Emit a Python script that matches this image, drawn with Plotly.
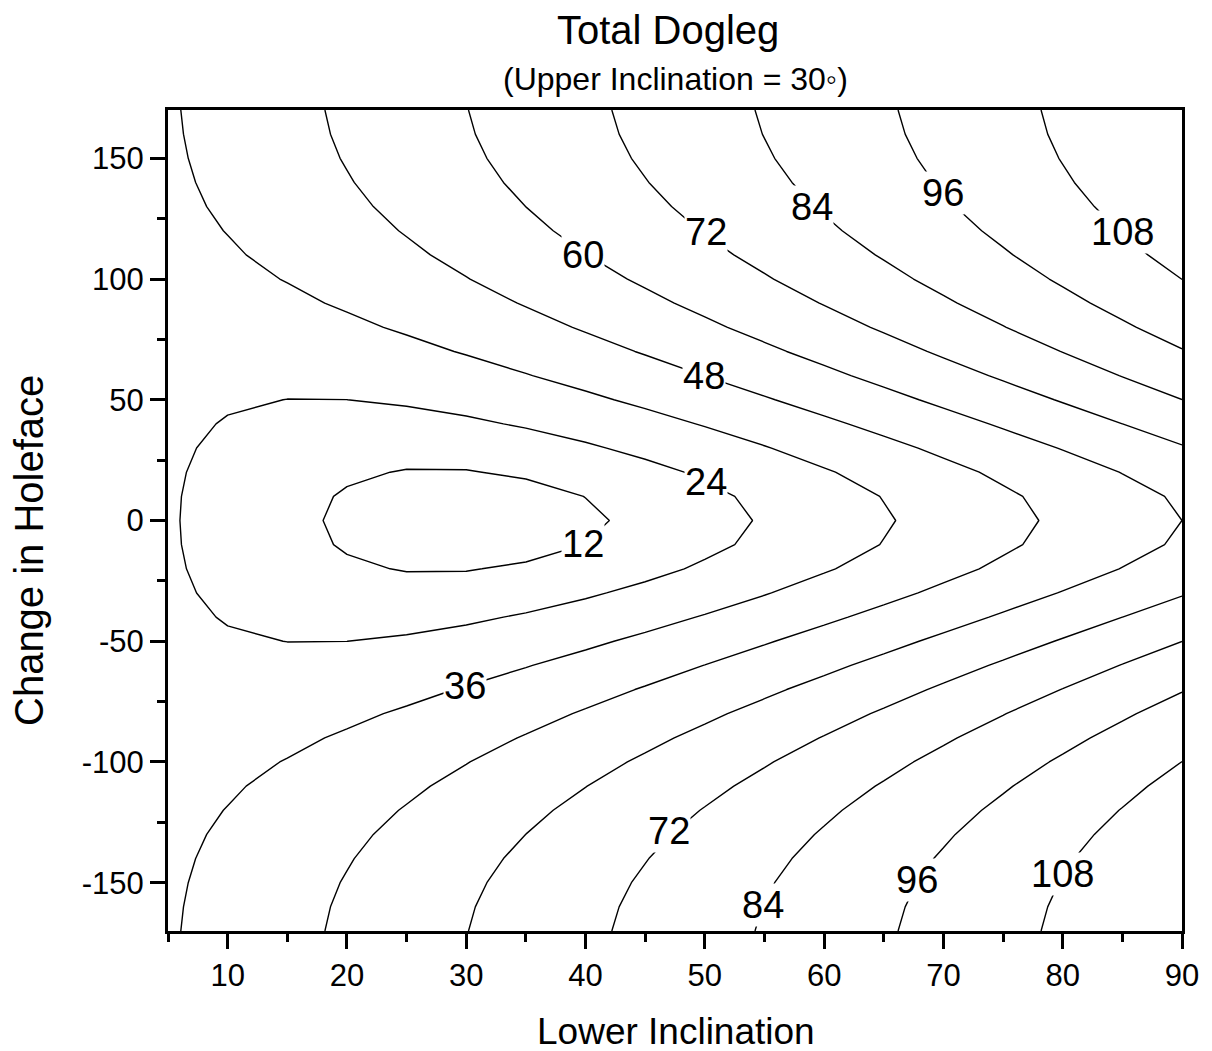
import numpy as np
import plotly.graph_objects as go

# ---- data ----
upper_inclination = 30.0                       # degrees (from subtitle)
lower_inclination = list(range(5, 95, 5))      # x grid, degrees
holeface_change = list(range(-170, 180, 10))   # y grid, degrees
contour_levels = [12, 24, 36, 48, 60, 72, 84, 96, 108]
x_ticks = [10, 20, 30, 40, 50, 60, 70, 80, 90]
y_ticks = [-150, -100, -50, 0, 50, 100, 150]
y_tick_text = ["-150", "-100", "-50", "0", "50", "100", "150"]

# contour label placement (level, lower inclination, holeface change)
label_levels = [12, 24, 36, 48, 60, 72, 84, 96, 108, 72, 84, 96, 108]
label_x = [39.8, 50.1, 29.9, 49.9, 39.8, 50.1, 59.0, 70.0, 85.0, 47.0, 54.9, 67.8, 80.0]
label_y = [-9.7, 15.9, -68.6, 60.0, 109.9, 119.4, 130.0, 135.8, 119.4, -128.4, -159.3, -149.0, -146.5]

# total dogleg between upper and lower stations for a given change in holeface
# (holeface change -> azimuth change by Napier's analogy, then dogleg angle)
I1 = np.radians(upper_inclination)
I2 = np.radians(np.array(lower_inclination, dtype=float))[None, :]
HF = np.radians(np.array(holeface_change, dtype=float))[:, None]
k = np.cos((I2 - I1) / 2) / np.cos((I2 + I1) / 2)
dA = 2 * np.arctan(k * np.tan(HF / 2))
cos_dl = np.cos(I1) * np.cos(I2) + np.sin(I1) * np.sin(I2) * np.cos(dA)
dogleg = np.degrees(np.arccos(np.clip(cos_dl, -1, 1)))

FONT = "Liberation Sans, Arial, sans-serif"

fig = go.Figure()
fig.add_trace(go.Contour(
    x=lower_inclination, y=holeface_change, z=dogleg,
    autocontour=False,
    contours=dict(start=contour_levels[0], end=contour_levels[-1],
                  size=contour_levels[1] - contour_levels[0],
                  coloring="lines", showlabels=False),
    colorscale=[[0, "black"], [1, "black"]],
    showscale=False,
    line=dict(width=1.4, smoothing=0),
    hoverinfo="skip",
))

W, H = 1212, 1051
# plot area in page pixels
PL, PR, PT, PB = 168, 1182, 110, 931
L, T, R, B = PL, PT, W - PR, H - PB
pw, ph = PR - PL, PB - PT

def px_to_paper_x(p):
    return (p - PL) / pw

def px_to_paper_y(p):
    return (PB - p) / ph

annotations = [
    dict(text="Total Dogleg", x=px_to_paper_x(668), y=px_to_paper_y(30),
         xref="paper", yref="paper", xanchor="center", yanchor="middle",
         showarrow=False, font=dict(size=40, family=FONT, color="black")),
    dict(text="(Upper Inclination = 30\u25e6)", x=px_to_paper_x(675),
         y=px_to_paper_y(79), xref="paper", yref="paper",
         xanchor="center", yanchor="middle", showarrow=False,
         font=dict(size=32, family=FONT, color="black")),
    dict(text="Lower Inclination", x=px_to_paper_x(676), y=px_to_paper_y(1031),
         xref="paper", yref="paper", xanchor="center", yanchor="middle",
         showarrow=False, font=dict(size=37, family=FONT, color="black")),
    dict(text="Change in Holeface", x=px_to_paper_x(29), y=px_to_paper_y(551),
         xref="paper", yref="paper", xanchor="center", yanchor="middle",
         textangle=-90, showarrow=False,
         font=dict(size=40, family=FONT, color="black")),
]
for lev, lx, ly in zip(label_levels, label_x, label_y):
    annotations.append(dict(
        text=str(lev), x=lx, y=ly, xref="x", yref="y",
        xanchor="center", yanchor="middle", showarrow=False,
        bgcolor="white", borderpad=0,
        font=dict(size=38, family=FONT, color="black")))

fig.update_layout(
    width=W, height=H,
    margin=dict(l=L, r=R, t=T, b=B, pad=0),
    paper_bgcolor="white", plot_bgcolor="white",
    font=dict(family=FONT, color="black"),
    showlegend=False,
    hovermode=False,
    xaxis=dict(range=[5, 90], tickvals=x_ticks, ticks="outside", ticklen=15,
               tickwidth=3, tickcolor="black", showline=True, linewidth=3,
               linecolor="black", mirror=True, showgrid=False, zeroline=False,
               tickfont=dict(size=31, family=FONT, color="black"),
               minor=dict(tickvals=[5, 15, 25, 35, 45, 55, 65, 75, 85],
                          ticks="outside", ticklen=8, tickwidth=3,
                          tickcolor="black", showgrid=False)),
    yaxis=dict(range=[-170, 170], tickvals=y_ticks, ticktext=y_tick_text,
               ticks="outside", ticklen=15,
               tickwidth=3, tickcolor="black", showline=True, linewidth=3,
               linecolor="black", mirror=True, showgrid=False, zeroline=False,
               tickfont=dict(size=31, family=FONT, color="black"),
               minor=dict(tickvals=[-125, -75, -25, 25, 75, 125],
                          ticks="outside", ticklen=8, tickwidth=3,
                          tickcolor="black", showgrid=False)),
    annotations=annotations,
)

fig.write_html(
    "out.html",
    config={"displayModeBar": False, "staticPlot": True},
    post_script="document.body.style.margin='0px';"
                "document.body.style.overflow='hidden';",
)
